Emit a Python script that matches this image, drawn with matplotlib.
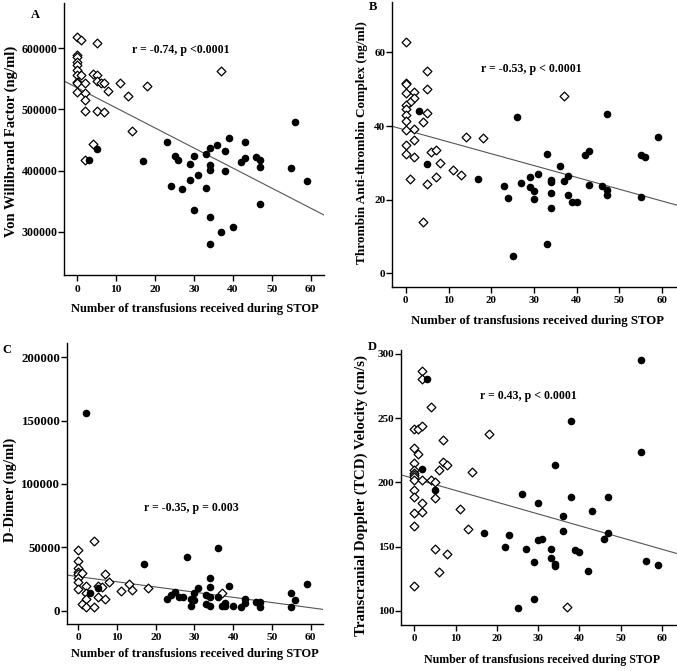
import matplotlib
matplotlib.use("Agg")
import matplotlib.pyplot as plt
import numpy as np

plt.rcParams['font.family'] = ['Liberation Serif', 'DejaVu Serif']
plt.rcParams['font.weight'] = 'bold'

# ---------------- Panel A: Von Willibrand Factor ----------------
a_open_x = [0, 1, 5, 0, 0, 0, 0, 0, 0, 0, 0, 0, 1, 2, 2, 2, 2, 4, 5, 5, 6, 7, 8, 11, 13, 18,
            5, 7, 14, 4, 2, 37]
a_open_y = [619000, 613600, 608000, 589000, 586000, 578000, 573000, 564000, 556000, 545000,
            543000, 529000, 556000, 544000, 527000, 515000, 498000, 558000, 556000, 547000,
            543000, 544000, 530000, 543000, 522000, 538000, 497000, 495000, 465000, 444000,
            418000, 563000]
a_fill_x = [5, 3, 17, 23, 25, 26, 24, 27, 29, 29, 30, 30, 31, 33, 33, 34, 34, 34, 34, 34,
            36, 37, 38, 38, 39, 40, 42, 43, 43, 46, 47, 47, 47, 55, 56, 59]
a_fill_y = [436000, 417000, 416000, 446000, 424000, 417000, 375000, 370000, 410000, 385000,
            424000, 336000, 393000, 427000, 372000, 437000, 409000, 401000, 324500, 280000,
            442000, 300000, 432000, 399000, 454000, 308000, 414000, 447000, 420000, 422000,
            417000, 405000, 346000, 404000, 480000, 383000]
a_fit = (535300, -3282)
a_label = "Von Willibrand Factor (ng/ml)"
a_stat = "r = -0.74, p <0.0001"
a_yticks = [300000, 400000, 500000, 600000]

# ---------------- Panel B: Thrombin Anti-thrombin Complex ----------------
b_open_x = [0, 5, 0, 0, 0, 2, 2, 1, 0, 0, 0, 0, 0, 5, 5, 4, 2, 2, 0, 0, 2, 6, 7, 8, 14, 18,
            11, 13, 7, 1, 5, 4, 37]
b_open_y = [62.7, 55.0, 51.8, 51.3, 48.9, 49.3, 47.5, 46.6, 45.7, 44.5, 43.0, 41.4, 38.9,
            50.0, 43.4, 41.2, 39.1, 36.2, 34.8, 32.4, 31.7, 33.0, 33.5, 30.0, 36.9, 36.8,
            28.2, 26.7, 26.2, 25.5, 24.4, 14.0, 48.2]
b_fill_x = [3, 5, 17, 26, 23, 24, 27, 29, 29, 30, 30, 31, 33, 33, 25, 34, 34, 34, 34, 36,
            37, 38, 38, 39, 40, 42, 43, 43, 46, 47, 47, 47, 55, 56, 55, 59]
b_fill_y = [44.0, 29.6, 25.6, 42.4, 23.7, 20.6, 24.5, 26.1, 23.5, 22.5, 20.1, 27.1, 32.5,
            7.9, 4.6, 25.3, 24.9, 21.9, 17.8, 29.2, 25.2, 26.5, 21.4, 19.5, 19.3, 32.2,
            33.1, 24.0, 23.7, 43.3, 22.6, 21.4, 32.1, 31.7, 20.7, 37.1]
b_fit = (38.9, -0.321)
b_label = "Thrombin Anti-thrombin Complex (ng/ml)"
b_stat = "r = -0.53, p < 0.0001"
b_yticks = [0, 20, 40, 60]

# ---------------- Panel C: D-Dimer ----------------
c_open_x = [0, 0, 0, 0, 0, 0, 0, 0, 1, 4, 2, 2, 2, 1, 2, 4, 5, 6, 5, 7, 8, 7, 11, 13, 14,
            18, 37]
c_open_y = [47900, 39200, 34000, 30800, 28700, 26100, 22900, 16800, 30000, 55000, 19500,
            13700, 8900, 5300, 3200, 2600, 19500, 18400, 10500, 29000, 22400, 9500, 15800,
            20800, 16300, 17600, 13900]
c_fill_x = [2, 3, 5, 17, 23, 24, 25, 26, 27, 28, 29, 29, 30, 30, 31, 33, 33, 34, 34, 34,
            34, 36, 36, 37, 38, 38, 39, 40, 42, 43, 43, 46, 47, 47, 55, 55, 56, 59]
c_fill_y = [156300, 14200, 17600, 37100, 8900, 12400, 15000, 11000, 11000, 42400, 8900,
            3900, 13700, 8400, 17600, 12400, 5000, 26100, 19000, 11000, 3900, 49700, 10500,
            3900, 5800, 3900, 19700, 3900, 3200, 8900, 5800, 7100, 7100, 3200, 13700, 3200,
            8400, 21300]
c_fit = (26900, -409)
c_label = "D-Dimer (ng/ml)"
c_stat = "r = -0.35, p = 0.003"
c_yticks = [0, 50000, 100000, 150000, 200000]

# ---------------- Panel D: TCD velocity ----------------
d_open_x = [2, 2, 4, 0, 1, 2, 7, 18, 0, 1, 0, 0, 0, 0, 0, 0, 0, 0, 0, 0, 2, 4, 5, 6, 7, 8,
            14, 2, 2, 5, 11, 13, 5, 8, 6, 0, 37]
d_open_y = [286.8, 280.3, 258.5, 241.9, 241.9, 243.7, 233.1, 238.0, 227.1, 221.9, 214.9,
            209.7, 207.7, 205.8, 204.0, 201.9, 194.2, 189.0, 176.0, 166.4, 201.9, 201.9,
            200.6, 210.0, 216.0, 213.9, 207.9, 183.8, 177.0, 188.2, 179.1, 164.1, 148.0,
            144.1, 130.1, 119.5, 103.4]
d_fill_x = [3, 2, 5, 17, 22, 23, 25, 26, 27, 29, 29, 30, 30, 31, 33, 33, 34, 34, 34, 36,
            36, 38, 38, 39, 40, 42, 43, 46, 47, 47, 55, 55, 56, 59]
d_fill_y = [280.5, 210.2, 194.4, 161.0, 150.1, 159.1, 102.1, 191.0, 148.0, 138.1, 109.3,
            183.8, 155.3, 156.0, 148.0, 141.0, 213.9, 136.3, 135.0, 174.2, 162.3, 247.9,
            189.0, 147.5, 146.2, 131.1, 178.1, 156.0, 189.0, 161.0, 295.6, 224.0, 139.2,
            136.1]
d_fit = (203.0, -0.917)
d_label = "Transcranial Doppler (TCD) Velocity (cm/s)"
d_stat = "r = 0.43, p < 0.0001"
d_yticks = [100, 150, 200, 250, 300]

x_label = "Number of transfusions received during STOP"
x_ticks = [0, 10, 20, 30, 40, 50, 60]

W, H = 677, 671
fig = plt.figure(figsize=(W / 100, H / 100), dpi=100)


def px_axes(left, top, right, bottom):
    return fig.add_axes([left / W, 1 - bottom / H, (right - left) / W, (bottom - top) / H])


panels = [
    dict(box=(64, 3, 324, 275), xlim=(-3.4, 63.4), ylim=(229100, 674100),
         ox=a_open_x, oy=a_open_y, fx=a_fill_x, fy=a_fill_y, fit=a_fit,
         ylab=a_label, stat=a_stat, yt=a_yticks, letter="A", lpos=(35, 15),
         spos=(0.45, 0.827), ylc=(-0.177, 0.49), xlc=(0.504, -0.103),
         yfs=10.5, xfs=9, xtfs=8.2, ytfs=8.6),
    dict(box=(391.7, 2, 677, 286.7), xlim=(-3.3, 63.5), ylim=(-3.6, 73.65),
         ox=b_open_x, oy=b_open_y, fx=b_fill_x, fy=b_fill_y, fit=b_fit,
         ylab=b_label, stat=b_stat, yt=b_yticks, letter="B", lpos=(373, 7),
         spos=(0.49, 0.765), ylc=(-0.083, 0.505), xlc=(0.511, -0.099),
         yfs=9.5, xfs=9.2, xtfs=7.8, ytfs=8),
    dict(box=(66.7, 343.3, 323.3, 623.5), xlim=(-3.0, 63.3), ylim=(-10100, 211000),
         ox=c_open_x, oy=c_open_y, fx=c_fill_x, fy=c_fill_y, fit=c_fit,
         ylab=c_label, stat=c_stat, yt=c_yticks, letter="C", lpos=(7, 350),
         spos=(0.484, 0.412), ylc=(-0.192, 0.476), xlc=(0.5, -0.089),
         yfs=10.5, xfs=9, xtfs=8.2, ytfs=9.3),
    dict(box=(400.7, 350, 677, 624.7), xlim=(-3.27, 63.6), ylim=(89.3, 303.1),
         ox=d_open_x, oy=d_open_y, fx=d_fill_x, fy=d_fill_y, fit=d_fit,
         ylab=d_label, stat=d_stat, yt=d_yticks, letter="D", lpos=(372, 347),
         spos=(0.463, 0.833), ylc=(-0.118, 0.47), xlc=(0.51, -0.108),
         yfs=10.8, xfs=8.6, xtfs=7.8, ytfs=8),
]

for p in panels:
    ax = px_axes(*p["box"])
    ax.set_xlim(*p["xlim"])
    ax.set_ylim(*p["ylim"])
    for s in ("top", "right"):
        ax.spines[s].set_visible(False)
    for s in ("left", "bottom"):
        ax.spines[s].set_linewidth(1.0)
    ax.scatter(p["ox"], p["oy"], marker="D", s=20, facecolors="white",
               edgecolors="black", linewidths=0.9, zorder=3)
    ax.scatter(p["fx"], p["fy"], marker="o", s=20, color="black", zorder=3)
    b0, b1 = p["fit"]
    ax.axline((0, b0), slope=b1, color="#555555", lw=0.8, zorder=2)
    ax.set_xticks(x_ticks)
    ax.set_yticks(p["yt"])
    ax.tick_params(axis="both", direction="out", length=4, width=1)
    ax.tick_params(axis="x", pad=3, labelsize=p["xtfs"])
    ax.tick_params(axis="y", pad=0.5, labelsize=p["ytfs"])
    for lab in ax.get_xticklabels() + ax.get_yticklabels():
        lab.set_fontweight("bold")
    ax.set_ylabel(p["ylab"], fontsize=p["yfs"], fontweight="bold")
    ax.yaxis.set_label_coords(*p["ylc"])
    ax.set_xlabel(x_label, fontsize=p["xfs"], fontweight="bold")
    ax.xaxis.set_label_coords(*p["xlc"])
    ax.text(p["spos"][0], p["spos"][1], p["stat"], transform=ax.transAxes,
            ha="center", va="center", fontsize=8.6, fontweight="bold")
    fig.text(p["lpos"][0] / W, 1 - p["lpos"][1] / H, p["letter"], ha="center",
             va="center", fontsize=9, fontweight="bold")

fig.savefig("out.png", dpi=100)
